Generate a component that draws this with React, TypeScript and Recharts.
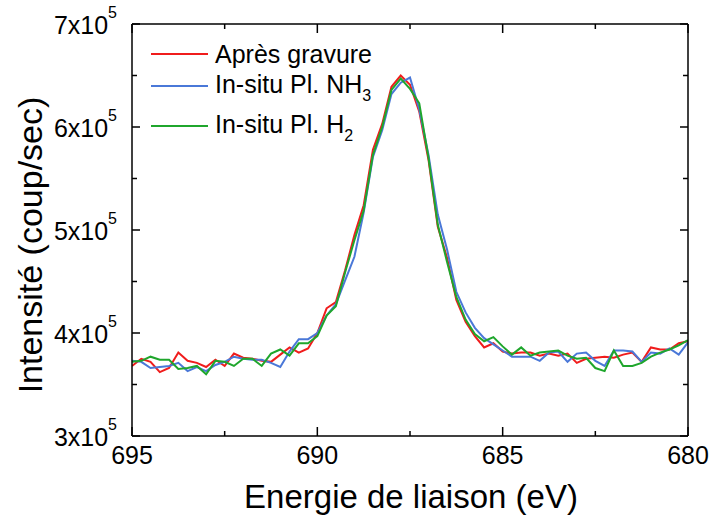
import React from 'react'
import { LineChart, Line, XAxis, YAxis } from 'recharts'

// binding energy (eV), 695 -> 680
const energies = [
  695, 694.75, 694.5, 694.25, 694, 693.75, 693.5, 693.25, 693, 692.75,
  692.5, 692.25, 692, 691.75, 691.5, 691.25, 691, 690.75, 690.5, 690.25,
  690, 689.75, 689.5, 689.25, 689, 688.75, 688.5, 688.25, 688, 687.75,
  687.5, 687.25, 687, 686.75, 686.5, 686.25, 686, 685.75, 685.5, 685.25,
  685, 684.75, 684.5, 684.25, 684, 683.75, 683.5, 683.25, 683, 682.75,
  682.5, 682.25, 682, 681.75, 681.5, 681.25, 681, 680.75, 680.5, 680.25, 680,
]

// intensities in units of 1e5 coup/sec
const apresGravure = [
  3.68, 3.75, 3.72, 3.62, 3.66, 3.81, 3.73, 3.71, 3.67, 3.74,
  3.68, 3.8, 3.76, 3.75, 3.73, 3.72, 3.79, 3.86, 3.81, 3.85,
  4.0, 4.24, 4.3, 4.61, 4.95, 5.24, 5.78, 6.03, 6.39, 6.5,
  6.41, 6.15, 5.68, 5.03, 4.73, 4.32, 4.11, 3.97, 3.86, 3.9,
  3.82, 3.8, 3.81, 3.81, 3.78, 3.8, 3.78, 3.8, 3.71, 3.75,
  3.76, 3.77, 3.76, 3.79, 3.81, 3.72, 3.86, 3.84, 3.84, 3.9, 3.92,
]
const insituNH3 = [
  3.73, 3.72, 3.66, 3.67, 3.68, 3.71, 3.63, 3.67, 3.63, 3.69,
  3.72, 3.77, 3.75, 3.74, 3.74, 3.71, 3.67, 3.82, 3.94, 3.94,
  4.0, 4.17, 4.28, 4.51, 4.74, 5.17, 5.71, 5.97, 6.32, 6.43,
  6.48, 6.17, 5.73, 5.15, 4.81, 4.4, 4.2, 4.05, 3.95, 3.89,
  3.83, 3.77, 3.77, 3.77, 3.73, 3.81, 3.82, 3.72, 3.8, 3.81,
  3.73, 3.68, 3.83, 3.83, 3.82, 3.72, 3.81, 3.8, 3.85, 3.79, 3.91,
]
const insituH2 = [
  3.72, 3.73, 3.77, 3.74, 3.74, 3.65, 3.66, 3.68, 3.6, 3.73,
  3.72, 3.68, 3.75, 3.75, 3.68, 3.8, 3.84, 3.78, 3.9, 3.9,
  3.97, 4.17, 4.26, 4.59, 4.9, 5.19, 5.73, 6.0, 6.36, 6.47,
  6.37, 6.23, 5.7, 5.05, 4.69, 4.35, 4.13, 3.99, 3.92, 3.96,
  3.87, 3.79, 3.86, 3.78, 3.81, 3.82, 3.83, 3.78, 3.75, 3.76,
  3.66, 3.63, 3.83, 3.68, 3.68, 3.71, 3.77, 3.81, 3.84, 3.88, 3.93,
]

const xTicks = [695, 692.5, 690, 687.5, 685, 682.5, 680]
const yTicks = [300000, 350000, 400000, 450000, 500000, 550000, 600000, 650000, 700000]

const RED = '#f01c1c'
const BLUE = '#4a78d8'
const GREEN = '#1fa62c'
const FONT = '"Liberation Sans", Arial, sans-serif'

const data = energies.map((e, i) => ({
  e,
  apres: apresGravure[i] * 100000,
  nh3: insituNH3[i] * 100000,
  h2: insituH2[i] * 100000,
}))

const LeftTick = (props: any) => {
  const { x, y, payload } = props
  const major = payload.value % 100000 === 0
  return (
    <g>
      <line x1={x} x2={x + (major ? 8 : 5)} y1={y} y2={y} stroke="#000" strokeWidth={1.5} />
      {major && (
        <text x={x - 15} y={y + 10} textAnchor="end" fontSize={25} fontFamily={FONT} fill="#000">
          {payload.value / 100000}x10<tspan dy={-16} fontSize={16}>5</tspan>
        </text>
      )}
    </g>
  )
}

const RightTick = (props: any) => {
  const { x, y, payload } = props
  const major = payload.value % 100000 === 0
  return <line x1={x} x2={x - (major ? 8 : 5)} y1={y} y2={y} stroke="#000" strokeWidth={1.5} />
}

const BottomTick = (props: any) => {
  const { x, y, payload } = props
  const major = payload.value % 5 === 0
  return (
    <g>
      <line x1={x} x2={x} y1={y} y2={y - (major ? 9 : 5)} stroke="#000" strokeWidth={1.5} />
      {major && (
        <text x={x} y={y + 28} textAnchor="middle" fontSize={25} fontFamily={FONT} fill="#000">
          {payload.value}
        </text>
      )}
    </g>
  )
}

const TopTick = (props: any) => {
  const { x, y, payload } = props
  const major = payload.value % 5 === 0
  return <line x1={x} x2={x} y1={y} y2={y + (major ? 9 : 5)} stroke="#000" strokeWidth={1.5} />
}

const legendItems = [
  { label: <>Après gravure</>, color: RED, top: 54 },
  { label: <>In-situ Pl. NH<span style={{ fontSize: 16, position: 'relative', top: 8 }}>3</span></>, color: BLUE, top: 86 },
  { label: <>In-situ Pl. H<span style={{ fontSize: 16, position: 'relative', top: 8 }}>2</span></>, color: GREEN, top: 126 },
]

export default function App() {
  return (
    <div style={{ position: 'fixed', left: 0, top: 0, width: 709, height: 525, background: '#fff', fontFamily: FONT }}>
      <LineChart width={709} height={525} data={data} margin={{ top: 0, right: 0, bottom: 0, left: 0 }}>
        <XAxis
          xAxisId="bottom"
          dataKey="e"
          type="number"
          domain={[680, 695]}
          reversed
          ticks={xTicks}
          interval={0}
          height={89}
          tickSize={0}
          tickMargin={0}
          tickLine={false}
          tick={<BottomTick />}
          axisLine={{ stroke: '#000', strokeWidth: 1.5 }}
          allowDataOverflow
        />
        <XAxis
          xAxisId="top"
          orientation="top"
          dataKey="e"
          type="number"
          domain={[680, 695]}
          reversed
          ticks={xTicks}
          interval={0}
          height={24}
          tickSize={0}
          tickMargin={0}
          tickLine={false}
          tick={<TopTick />}
          axisLine={{ stroke: '#000', strokeWidth: 1.5 }}
          allowDataOverflow
        />
        <YAxis
          yAxisId="left"
          type="number"
          domain={[300000, 700000]}
          ticks={yTicks}
          interval={0}
          width={132}
          tickSize={0}
          tickMargin={0}
          tickLine={false}
          tick={<LeftTick />}
          axisLine={{ stroke: '#000', strokeWidth: 1.5 }}
          allowDataOverflow
        />
        <YAxis
          yAxisId="right"
          orientation="right"
          type="number"
          domain={[300000, 700000]}
          ticks={yTicks}
          interval={0}
          width={21}
          tickSize={0}
          tickMargin={0}
          tickLine={false}
          tick={<RightTick />}
          axisLine={{ stroke: '#000', strokeWidth: 1.5 }}
          allowDataOverflow
        />
        <Line xAxisId="bottom" yAxisId="left" dataKey="apres" stroke={RED} strokeWidth={2} dot={false} isAnimationActive={false} />
        <Line xAxisId="bottom" yAxisId="left" dataKey="nh3" stroke={BLUE} strokeWidth={2} dot={false} isAnimationActive={false} />
        <Line xAxisId="bottom" yAxisId="left" dataKey="h2" stroke={GREEN} strokeWidth={2} dot={false} isAnimationActive={false} />
      </LineChart>

      {/* legend */}
      {legendItems.map((it, i) => (
        <div key={i} style={{ position: 'absolute', left: 151, top: it.top - 15, height: 30, display: 'flex', alignItems: 'center', whiteSpace: 'nowrap' }}>
          <div style={{ width: 57, height: 2, background: it.color }} />
          <span style={{ marginLeft: 7, fontSize: 25, lineHeight: '30px', color: '#000' }}>{it.label}</span>
        </div>
      ))}

      {/* axis titles */}
      <div style={{ position: 'absolute', left: 30, top: 245, transform: 'translate(-50%, -50%) rotate(-90deg)', fontSize: 34, whiteSpace: 'nowrap', color: '#000' }}>
        Intensité (coup/sec)
      </div>
      <div style={{ position: 'absolute', left: 411, top: 497, transform: 'translate(-50%, -50%)', fontSize: 33, whiteSpace: 'nowrap', color: '#000' }}>
        Energie de liaison (eV)
      </div>
    </div>
  )
}
